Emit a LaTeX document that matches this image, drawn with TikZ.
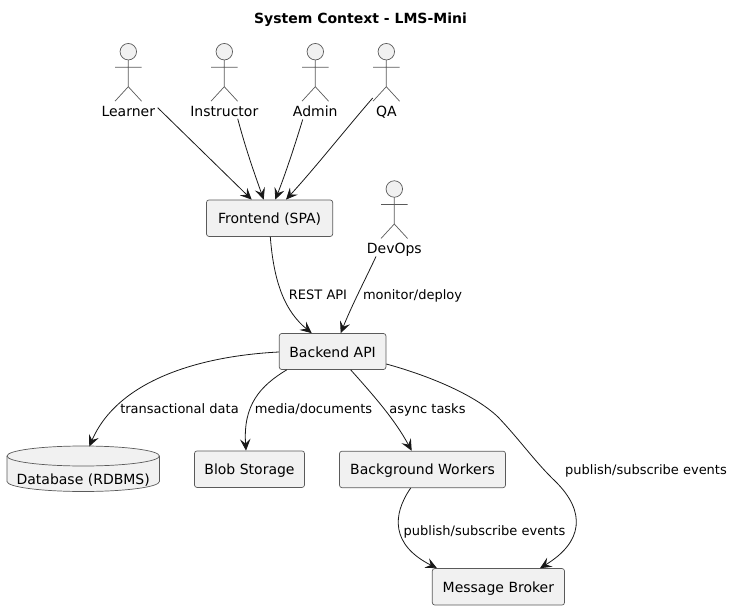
\documentclass[tikz,border=0pt]{standalone}
\usepackage{fontspec}
\setmainfont{DejaVu Sans}
\usetikzlibrary{arrows.meta,shapes.geometric}
\definecolor{puFill}{HTML}{F1F1F1}
\definecolor{puLine}{HTML}{181818}
\definecolor{puBorder}{HTML}{5A5A5A}
\tikzset{
  box/.style={draw=puBorder,fill=puFill,line width=0.7pt,rounded corners=2.5pt,inner sep=0pt,font=\fontsize{14}{16}\selectfont,text=black,text height=13.5pt,text depth=2.5pt},
  stick/.style={draw=puBorder,line width=0.7pt},
  headc/.style={circle,draw=puBorder,fill=puFill,line width=0.7pt,minimum size=16.5pt,inner sep=0pt},
  actorlabel/.style={inner sep=0pt,font=\fontsize{14}{16}\selectfont,text=black,text height=13.5pt,text depth=2.5pt},
  edge/.style={draw=puLine,line width=0.8pt,-{Stealth[length=11.5pt,width=10.5pt,inset=4.5pt,fill=puLine]}},
  elabel/.style={inner sep=0pt,font=\fontsize{13}{15}\selectfont,text=black,text height=13pt,text depth=2.5pt},
  titlelabel/.style={inner sep=0pt,font=\fontsize{14}{16}\selectfont\bfseries,text=black}
}
\newcommand{\stickactor}[4]{% x, y(head centre), name, label
  \draw[stick] (#1,#2+8) -- (#1,#2+35) (#1-13.3,#2+15.5) -- (#1+13.3,#2+15.5)
    (#1-13.3,#2+49.5) -- (#1,#2+35) -- (#1+13.3,#2+49.5);
  \node[headc] (#3head) at (#1,#2) {};
  \node[actorlabel] (#3) at (#1,#2+59) {#4};
}
\begin{document}
\begin{tikzpicture}[x=1pt,y=-1pt]
\useasboundingbox (0,0) rectangle (734,610);
\node[titlelabel] (title) at (360.5,19.5) {System Context - LMS-Mini};

\stickactor{128.3}{51.7}{learner}{Learner}
\stickactor{224.3}{51.7}{instructor}{Instructor}
\stickactor{315.3}{51.7}{admin}{Admin}
\stickactor{386.3}{51.7}{qa}{QA}
\stickactor{394.3}{189}{devops}{DevOps}

\node[box,minimum width=126.2pt,minimum height=36.5pt] (frontend) at (269.6,218.2) {Frontend (SPA)};
\node[box,minimum width=106.7pt,minimum height=36pt] (backend) at (332.6,351.5) {Backend API};
\node[box,minimum width=110pt,minimum height=36.5pt] (blob) at (249.5,469.2) {Blob Storage};
\node[box,minimum width=166pt,minimum height=36.5pt] (workers) at (422.5,469.4) {Background Workers};
\node[box,minimum width=132.2pt,minimum height=36.5pt] (broker) at (498.4,586.8) {Message Broker};

% database cylinder
\path[draw=puBorder,fill=puFill,line width=0.7pt]
  (7,456) arc[start angle=180,end angle=360,x radius=76.2,y radius=10]
  -- (159.4,481.5) arc[start angle=0,end angle=180,x radius=76.2,y radius=10] -- cycle;
\path[draw=puBorder,line width=0.7pt]
  (7,456) arc[start angle=180,end angle=0,x radius=76.2,y radius=10];
\node[actorlabel] (db) at (83.2,479) {Database (RDBMS)};

% connectors
\draw[edge] ([shift={(29.4,-3)}]learner.center) -- ([xshift=-17.9pt]frontend.north);
\draw[edge] ([shift={(13.4,8)}]instructor.center) .. controls (246,150) and (255,175) .. ([xshift=-5.9pt]frontend.north);
\draw[edge] ([shift={(-12.6,8.8)}]admin.center) .. controls (295,145) and (285,175) .. ([xshift=5.7pt]frontend.north);
\draw[edge] ([shift={(-13.6,-12.7)}]qa.center) .. controls (345,130) and (315,168) .. ([xshift=16.4pt]frontend.north);
\draw[edge] ([xshift=0.7pt]frontend.south) .. controls (274,285) and (286,312) .. ([xshift=-20.9pt]backend.north);
\draw[edge] ([shift={(-18.3,8.5)}]devops.center) .. controls (365,280) and (352,305) .. ([xshift=8.1pt]backend.north);
\draw[edge] ([yshift=-0.5pt]backend.west) .. controls (200,356) and (118,380) .. ([shift={(6.1,-32.5)}]db.center);
\draw[edge] ([xshift=-45.9pt]backend.south) .. controls (260,386) and (243,405) .. ([xshift=-3.5pt]blob.north);
\draw[edge] ([xshift=18.1pt]backend.south) .. controls (375,397) and (395,420) .. ([xshift=-10.8pt]workers.north);
\draw[edge] ([yshift=-12.5pt]backend.east) .. controls (430,376) and (475,395) .. (498,417) .. controls (520,440) and (535,462) .. (556,482) .. controls (586,512) and (583,542) .. ([xshift=41.6pt]broker.north);
\draw[edge] ([xshift=-11.8pt]workers.south) .. controls (392,515) and (391,545) .. ([xshift=-61.4pt]broker.north);

% connector labels
\node[elabel] (l1) at (318,294) {REST API};
\node[elabel] (l2) at (412.5,294) {monitor/deploy};
\node[elabel] (l3) at (179.5,408) {transactional data};
\node[elabel] (l4) at (313.5,408) {media/documents};
\node[elabel] (l5) at (427.5,408) {async tasks};
\node[elabel] (l6) at (646,469) {publish/subscribe events};
\node[elabel] (l7) at (484.5,530) {publish/subscribe events};
\end{tikzpicture}
\end{document}
